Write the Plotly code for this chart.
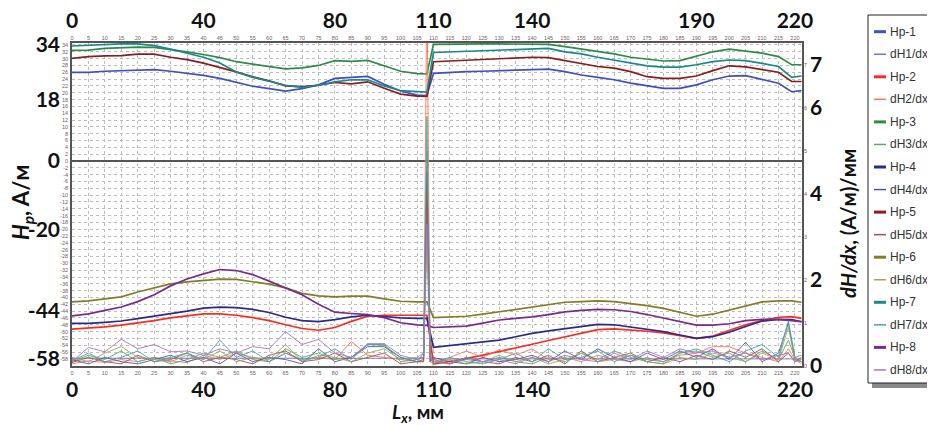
import plotly.graph_objects as go

# ---------------- data ----------------
X_H = [0, 5, 10, 15, 20, 25, 30, 35, 40, 45, 50, 55, 60, 65, 70, 75, 80, 85, 90, 95, 100, 105, 108,
       110, 115, 120, 125, 130, 135, 140, 145, 150, 155, 160, 165, 170, 175, 180, 185, 190, 195, 200,
       205, 210, 215, 219, 222]

HP1 = [26.0, 26.0, 26.3, 26.5, 26.8, 26.8, 26.3, 25.8, 25.1, 24.2, 23.0, 21.9, 21.2, 20.5, 21.2, 22.3,
       24.2, 24.4, 24.8, 22.5, 20.5, 19.3, 19.2,
       25.7, 26.0, 26.2, 26.3, 26.5, 26.7, 26.9, 26.9, 26.2, 25.2, 24.5, 23.8, 22.8, 22.0, 21.3, 21.3,
       22.3, 23.8, 24.9, 25.0, 23.8, 22.8, 20.3, 20.6]
HP2 = [-49.3, -49.0, -48.6, -48.1, -47.5, -46.8, -46.0, -45.4, -44.8, -44.8, -45.2, -45.9, -46.8, -48.0,
       -49.1, -49.6, -48.8, -47.0, -45.5, -45.2, -45.2, -45.2, -45.2,
       -59.5, -58.8, -57.9, -56.9, -55.9, -54.8, -53.7, -52.6, -51.5, -50.4, -49.4, -49.2, -49.5, -49.9,
       -50.4, -51.2, -52.0, -51.3, -49.6, -48.0, -46.8, -45.8, -45.6, -46.1]
HP3 = [32.4, 32.5, 33.0, 33.2, 33.4, 33.3, 32.7, 32.0, 31.2, 30.3, 29.1, 28.4, 27.6, 27.0, 27.3, 28.0,
       29.4, 29.2, 29.5, 27.8, 26.3, 25.6, 25.5,
       34.2, 34.3, 34.3, 34.3, 34.3, 34.3, 34.3, 34.2, 33.5, 32.8, 32.0, 31.4, 30.4, 29.8, 29.3, 29.4,
       30.6, 32.0, 32.8, 32.3, 31.6, 30.6, 28.2, 28.2]
HP4 = [-47.6, -47.6, -47.3, -46.9, -46.2, -45.5, -44.8, -44.0, -43.1, -42.8, -43.0, -43.5, -44.4, -45.8,
       -46.8, -47.1, -46.5, -45.7, -45.2, -45.7, -46.0, -46.1, -46.1,
       -54.6, -54.1, -53.7, -53.1, -52.5, -51.5, -50.5, -49.8, -49.1, -48.5, -47.9, -48.0, -48.7, -49.3,
       -50.0, -51.0, -52.0, -51.5, -50.2, -48.5, -46.9, -46.4, -46.5, -47.1]
HP5 = [30.1, 30.6, 30.8, 30.9, 31.3, 31.3, 30.4, 29.7, 28.7, 27.5, 26.1, 24.7, 23.5, 22.0, 21.8, 22.2,
       23.0, 22.6, 23.2, 21.3, 19.6, 19.0, 18.9,
       29.1, 29.3, 29.6, 29.9, 30.1, 30.3, 30.4, 30.3, 29.4, 28.6, 27.7, 27.2, 26.2, 24.7, 24.2, 24.2,
       24.9, 26.5, 27.9, 27.6, 26.9, 26.0, 23.3, 23.3]
HP6 = [-41.3, -41.0, -40.4, -39.8, -38.4, -37.2, -36.0, -35.4, -34.9, -34.6, -34.7, -35.4, -36.1, -37.2,
       -38.8, -39.5, -39.8, -39.6, -39.6, -40.4, -41.1, -41.3, -41.3,
       -45.9, -45.7, -45.5, -44.9, -44.2, -43.5, -42.7, -42.0, -41.4, -41.2, -41.0, -41.2, -41.7, -42.4,
       -43.2, -44.3, -45.5, -44.9, -43.7, -42.5, -41.3, -41.0, -41.0, -41.4]
HP7 = [33.7, 33.9, 34.2, 34.3, 34.3, 33.8, 32.8, 31.6, 30.4, 28.7, 26.1, 24.5, 23.3, 22.2, 21.6, 22.2,
       23.2, 23.8, 23.8, 22.0, 20.6, 20.3, 20.2,
       31.8, 32.0, 32.2, 32.4, 32.6, 32.8, 33.0, 33.0, 32.0, 31.4, 30.4, 29.6, 28.6, 27.9, 27.5, 27.5,
       28.2, 29.1, 29.6, 29.4, 28.6, 27.7, 24.5, 24.9]
HP8 = [-45.4, -44.8, -43.8, -42.8, -41.2, -39.2, -36.6, -34.6, -33.1, -31.8, -32.1, -33.3, -35.2, -37.2,
       -39.2, -42.0, -44.3, -44.7, -45.0, -45.9, -47.4, -48.0, -48.2,
       -48.8, -48.6, -48.4, -47.5, -46.6, -46.1, -45.7, -45.0, -44.2, -43.8, -43.5, -43.6, -44.1, -45.0,
       -46.0, -47.1, -48.1, -48.1, -47.7, -46.8, -46.4, -46.4, -46.8, -47.1]

X_D = [0, 5, 10, 15, 20, 25, 30, 35, 40, 45, 50, 55, 60, 65, 70, 75, 80, 85, 90, 95, 100, 105,
       107, 108, 109,
       110, 115, 120, 125, 130, 135, 140, 145, 150, 155, 160, 165, 170, 175, 180, 185, 190, 195, 200,
       205, 210, 215, 218, 220, 222]

DH1 = [0.18, 0.18, 0.18, 0.18, 0.18, 0.18, 0.18, 0.18, 0.18, 0.18, 0.18, 0.18, 0.18, 0.18, 0.18, 0.18,
       0.18, 0.18, 0.18, 0.18, 0.18, 0.18,
       0.20, 4.2, 0.20,
       0.165, 0.165, 0.165, 0.165, 0.165, 0.165, 0.165, 0.165, 0.165, 0.165, 0.165, 0.165, 0.165, 0.165,
       0.165, 0.165, 0.165, 0.165, 0.165, 0.165, 0.165, 0.165, 0.165, 0.165, 0.165]
DH2 = [0.05, 0.12, 0.08, 0.15, 0.10, 0.20, 0.12, 0.08, 0.25, 0.15, 0.30, 0.20, 0.10, 0.30, 0.12, 0.20,
       0.15, 0.57, 0.25, 0.20, 0.15, 0.10,
       0.10, 9.0, 0.10,
       0.05, 0.20, 0.35, 0.20, 0.38, 0.25, 0.40, 0.15, 0.20, 0.10, 0.25, 0.15, 0.10, 0.20, 0.10, 0.25,
       0.30, 0.45, 0.45, 0.30, 0.20, 0.10, 0.40, 0.15, 0.05]
DH3 = [0.10, 0.25, 0.15, 0.35, 0.10, 0.20, 0.05, 0.15, 0.30, 0.20, 0.35, 0.15, 0.10, 0.40, 0.20, 0.30,
       0.15, 0.20, 0.50, 0.50, 0.10, 0.15,
       0.20, 5.0, 0.20,
       0.10, 0.05, 0.15, 0.10, 0.20, 0.10, 0.05, 0.20, 0.10, 0.30, 0.15, 0.35, 0.20, 0.10, 0.05, 0.30,
       0.35, 0.20, 0.30, 0.10, 0.35, 0.15, 0.60, 0.20, 0.10]
DH4 = [0.15, 0.05, 0.20, 0.10, 0.05, 0.15, 0.25, 0.10, 0.20, 0.05, 0.30, 0.10, 0.20, 0.15, 0.05, 0.40,
       0.10, 0.20, 0.45, 0.45, 0.20, 0.10,
       0.15, 4.5, 0.10,
       0.20, 0.10, 0.05, 0.20, 0.10, 0.15, 0.25, 0.10, 0.35, 0.15, 0.40, 0.20, 0.10, 0.30, 0.15, 0.35,
       0.20, 0.40, 0.15, 0.55, 0.10, 0.30, 1.00, 0.15, 0.10]
DH5 = [0.08, 0.20, 0.10, 0.05, 0.25, 0.10, 0.15, 0.30, 0.10, 0.20, 0.15, 0.05, 0.25, 0.35, 0.10, 0.15,
       0.30, 0.10, 0.20, 0.30, 0.05, 0.10,
       0.10, 4.0, 0.10,
       0.15, 0.05, 0.20, 0.10, 0.05, 0.20, 0.10, 0.25, 0.05, 0.35, 0.10, 0.20, 0.30, 0.10, 0.20, 0.10,
       0.25, 0.15, 0.35, 0.20, 0.40, 0.10, 0.30, 0.10, 0.20]
DH6 = [0.20, 0.10, 0.30, 0.45, 0.20, 0.15, 0.10, 0.25, 0.15, 0.35, 0.10, 0.20, 0.15, 0.50, 0.10, 0.25,
       0.20, 0.10, 0.30, 0.40, 0.15, 0.20,
       0.30, 2.8, 0.20,
       0.10, 0.15, 0.05, 0.10, 0.25, 0.10, 0.20, 0.05, 0.15, 0.30, 0.10, 0.15, 0.25, 0.10, 0.05, 0.20,
       0.15, 0.30, 0.20, 0.10, 0.30, 0.15, 0.90, 0.15, 0.10]
DH7 = [0.12, 0.30, 0.10, 0.20, 0.35, 0.10, 0.20, 0.30, 0.15, 0.60, 0.20, 0.35, 0.10, 0.30, 0.15, 0.20,
       0.40, 0.15, 0.50, 0.48, 0.20, 0.10,
       0.30, 5.8, 0.30,
       0.05, 0.20, 0.10, 0.05, 0.15, 0.30, 0.10, 0.40, 0.15, 0.20, 0.35, 0.10, 0.25, 0.15, 0.10, 0.30,
       0.40, 0.25, 0.10, 0.35, 0.50, 0.20, 1.05, 0.20, 0.25]
DH8 = [0.10, 0.43, 0.33, 0.62, 0.40, 0.50, 0.33, 0.35, 0.25, 0.40, 0.30, 0.45, 0.40, 0.80, 0.50, 0.62,
       0.30, 0.20, 0.52, 0.52, 0.25, 0.15,
       0.20, 3.3, 0.20,
       0.10, 0.05, 0.20, 0.10, 0.15, 0.05, 0.20, 0.10, 0.25, 0.15, 0.10, 0.30, 0.15, 0.35, 0.20, 0.40,
       0.30, 0.35, 0.20, 0.30, 0.15, 0.25, 0.30, 0.10, 0.15]

HP_NAMES = ['Hp-1', 'Hp-2', 'Hp-3', 'Hp-4', 'Hp-5', 'Hp-6', 'Hp-7', 'Hp-8']
DH_NAMES = ['dH1/dx', 'dH2/dx', 'dH3/dx', 'dH4/dx', 'dH5/dx', 'dH6/dx', 'dH7/dx', 'dH8/dx']

BIG_X_TICKS = [0, 40, 80, 110, 140, 190, 220]
SMALL_X_TICKS = list(range(0, 221, 5))
BIG_LEFT_TICKS = [34, 18, 0, -20, -44, -58]
SMALL_LEFT_TICKS = list(range(-58, 35, 2))
BIG_RIGHT_TICKS = [7, 6, 4, 2, 0]
SMALL_RIGHT_TICKS = [0, 1, 2, 3, 4, 5, 6, 7]

# ---------------- style ----------------
HP_COLORS = ['#3f4fc4', '#ff2a1e', '#2f8c46', '#2b2b8a', '#8a1d1d', '#7f7f26', '#198a8a', '#7a2b8c']
DH_COLORS = ['#6e78d6', '#ff7658', '#5aa86c', '#5656a8', '#a65050', '#a4a45c', '#44a6a6', '#a675c4']

# the page body adds an 8 px offset; the figure is sized so the result fills 935x425
OFF = 8
W, H = 935 - OFF, 425 - OFF
PL, PR, PT, PB = 72, 802, 43, 366          # plot area in window pixels
Y_LEFT = [-60.08, 34.58]
Y_RIGHT = [0, 7.51]
X_RANGE = [0, 222.15]

BIG_FONT = dict(family='Lato, Open Sans, sans-serif', size=21, color='#111111', weight='bold')
SMALL_FONT = dict(family='Liberation Sans, Arial, sans-serif', size=5.5, color='#7a5a66')
LEG_FONT = dict(family='Liberation Sans, Arial, sans-serif', size=12, color='#333333')


def px_x(p):
    return (p - PL) / (PR - PL)


def px_y(p):
    return (PB - p) / (PB - PT)


fig = go.Figure()
hp_series = [HP1, HP2, HP3, HP4, HP5, HP6, HP7, HP8]
dh_series = [DH1, DH2, DH3, DH4, DH5, DH6, DH7, DH8]
# Hp curves use the left scale (y / y3), dH/dx curves the right scale (y2 / y4);
# they are spread over overlaid axis pairs so every labelled axis carries data.
for i in range(8):
    hx, hy = ('x', 'y') if i < 4 else ('x3', 'y3')
    dx, dy = ('x2', 'y2') if i < 4 else ('x4', 'y4')
    fig.add_trace(go.Scatter(x=X_H, y=hp_series[i], name=HP_NAMES[i], mode='lines',
                             line=dict(color=HP_COLORS[i], width=1.7), xaxis=hx, yaxis=hy))
    fig.add_trace(go.Scatter(x=X_D, y=dh_series[i], name=DH_NAMES[i], mode='lines',
                             line=dict(color=DH_COLORS[i], width=1), opacity=0.9, xaxis=dx, yaxis=dy))

common_x = dict(range=X_RANGE, zeroline=False, showgrid=False, ticks='', automargin=False)
fig.update_layout(
    width=W, height=H,
    margin=dict(l=PL - OFF, r=W - (PR - OFF), t=PT - OFF, b=H - (PB - OFF), pad=0, autoexpand=False),
    plot_bgcolor='white', paper_bgcolor='white',
    showlegend=False,
    xaxis=dict(common_x, tickvals=SMALL_X_TICKS, ticktext=[str(v) for v in SMALL_X_TICKS],
               tickfont=SMALL_FONT, showgrid=True, gridcolor='#bdbdbd', griddash='dot', gridwidth=1,
               showline=True, mirror=True, linecolor='#555555', linewidth=1.5, ticklabelstandoff=1),
    xaxis2=dict(common_x, overlaying='x', side='top', anchor='y', tickvals=SMALL_X_TICKS,
                ticktext=[str(v) for v in SMALL_X_TICKS], tickfont=SMALL_FONT, ticklabelstandoff=1),
    xaxis3=dict(common_x, overlaying='x', side='bottom', anchor='y', tickvals=BIG_X_TICKS,
                ticktext=[str(v) for v in BIG_X_TICKS], tickfont=BIG_FONT, ticklabelstandoff=9),
    xaxis4=dict(common_x, overlaying='x', side='top', anchor='y', tickvals=BIG_X_TICKS,
                ticktext=[str(v) for v in BIG_X_TICKS], tickfont=BIG_FONT, ticklabelstandoff=10),
    yaxis=dict(range=Y_LEFT, tickvals=SMALL_LEFT_TICKS, ticktext=[str(v) for v in SMALL_LEFT_TICKS],
               tickfont=SMALL_FONT, showgrid=True, gridcolor='#bdbdbd', griddash='dot', gridwidth=1,
               zeroline=True, zerolinecolor='#555555', zerolinewidth=1.5, automargin=False,
               showline=True, mirror=True, linecolor='#555555', linewidth=1.5, ticks='', ticklabelstandoff=1),
    yaxis2=dict(range=Y_RIGHT, overlaying='y', side='right', anchor='x', tickvals=SMALL_RIGHT_TICKS,
                ticktext=[str(v) for v in SMALL_RIGHT_TICKS], tickfont=SMALL_FONT, showgrid=False,
                zeroline=False, ticks='', ticklabelstandoff=1, automargin=False),
    yaxis3=dict(range=Y_LEFT, overlaying='y', side='left', anchor='x', tickvals=BIG_LEFT_TICKS,
                ticktext=[str(v) for v in BIG_LEFT_TICKS], tickfont=BIG_FONT, showgrid=False,
                zeroline=False, ticks='', ticklabelstandoff=11, automargin=False),
    yaxis4=dict(range=Y_RIGHT, overlaying='y', side='right', anchor='x', tickvals=BIG_RIGHT_TICKS,
                ticktext=[str(v) for v in BIG_RIGHT_TICKS], tickfont=BIG_FONT, showgrid=False,
                zeroline=False, ticks='', ticklabelstandoff=7, automargin=False),
)

# axis titles
TITLE_FONT = dict(family='Lato, Open Sans, sans-serif', size=22, color='#111111')
fig.add_annotation(xref='paper', yref='paper', x=px_x(22), y=px_y(203), xanchor='center', yanchor='middle',
                   showarrow=False, textangle=-90,
                   text='<b><i>H<sub>p</sub></i>, A/м</b>', font=TITLE_FONT)
fig.add_annotation(xref='paper', yref='paper', x=px_x(848), y=px_y(224), xanchor='center', yanchor='middle',
                   showarrow=False, textangle=-90,
                   text='<b><i>dH/dx</i>, (A/м)/мм</b>', font=dict(TITLE_FONT, size=20))
fig.add_annotation(xref='paper', yref='paper', x=px_x(418), y=px_y(413), xanchor='center', yanchor='middle',
                   showarrow=False, borderpad=0,
                   text='<b><i>L<sub>x</sub></i>, мм</b>', font=dict(TITLE_FONT, size=19))

# legend box (drawn manually to match the compact original)
LX0, LX1, LY0, LY1 = 868, 931, 15, 383
fig.add_shape(type='rect', xref='paper', yref='paper', x0=px_x(LX0 + 4), x1=px_x(LX1 + 4),
              y0=px_y(LY1 + 5), y1=px_y(LY0 + 5), fillcolor='#8a8a8a', line=dict(width=0), layer='above')
fig.add_shape(type='rect', xref='paper', yref='paper', x0=px_x(LX0), x1=px_x(LX1),
              y0=px_y(LY1), y1=px_y(LY0), fillcolor='white', line=dict(color='#222222', width=1), layer='above')
entries = []
for i in range(8):
    entries.append((HP_NAMES[i], HP_COLORS[i], 3))
    entries.append((DH_NAMES[i], DH_COLORS[i], 1.5))
for k, (nm, col, wd) in enumerate(entries):
    yy = 31.7 + k * 22.55
    fig.add_shape(type='line', xref='paper', yref='paper', x0=px_x(874), x1=px_x(886),
                  y0=px_y(yy), y1=px_y(yy), line=dict(color=col, width=wd), layer='above')
    fig.add_annotation(xref='paper', yref='paper', x=px_x(888), y=px_y(yy), xanchor='left', yanchor='middle',
                       showarrow=False, text=nm, font=LEG_FONT)

fig.write_html('out.html')
